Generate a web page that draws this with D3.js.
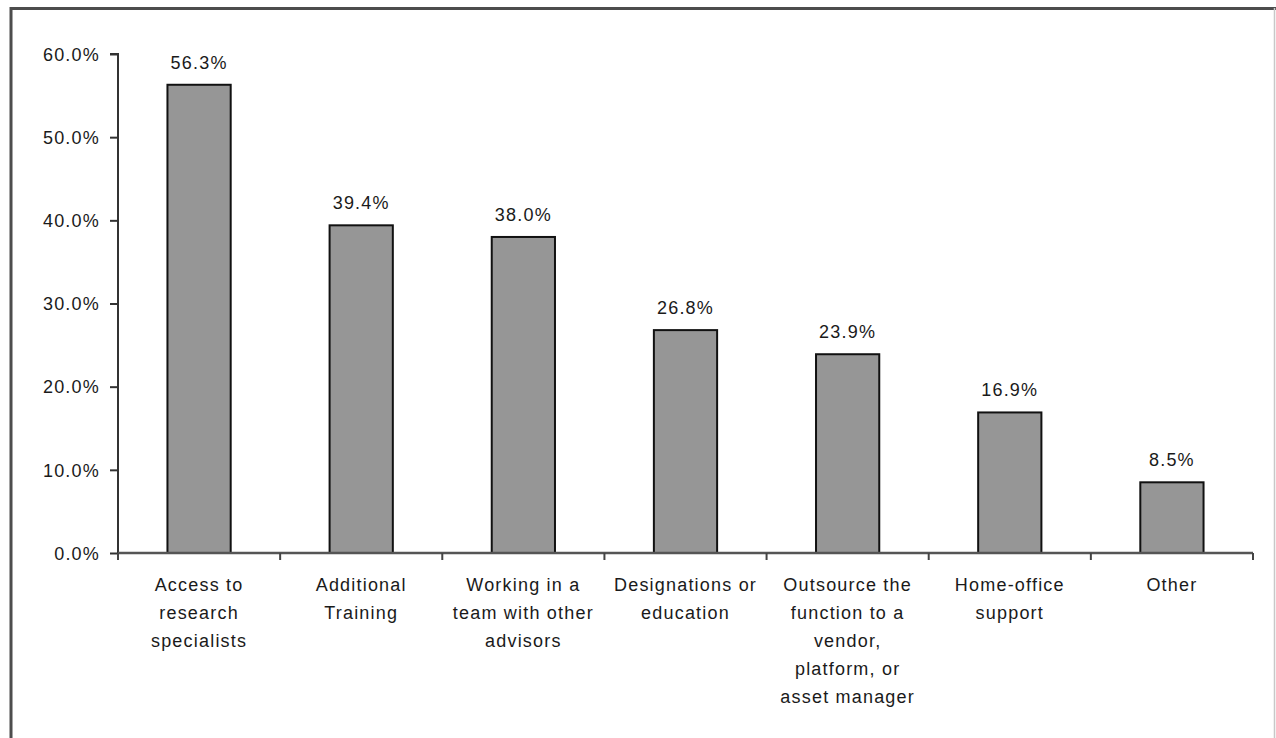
<!DOCTYPE html>
<html><head><meta charset="utf-8">
<script src="https://cdn.jsdelivr.net/npm/d3@7/dist/d3.min.js"></script>
<style>
html,body{margin:0;padding:0;background:#fff;}
svg{display:block;}
text{font-family:"Liberation Sans",Arial,sans-serif;font-size:18px;fill:#1a1a1a;letter-spacing:1.2px;}
</style></head>
<body>
<script>
const categories = [
  ["Access to","research","specialists"],
  ["Additional","Training"],
  ["Working in a","team with other","advisors"],
  ["Designations or","education"],
  ["Outsource the","function to a","vendor,","platform, or","asset manager"],
  ["Home-office","support"],
  ["Other"]
];
const values = [56.3, 39.4, 38.0, 26.8, 23.9, 16.9, 8.5];
const yTicks = [0, 10, 20, 30, 40, 50, 60];

const W = 1276, H = 738;
const svg = d3.select("body").append("svg").attr("width", W).attr("height", H);

// outer frame
svg.append("path").attr("d", `M11,${H} L11,8.5 L${W},8.5`)
  .attr("fill","none").attr("stroke","#4d4d4d").attr("stroke-width",3);
svg.append("line").attr("x1",W-1.5).attr("x2",W-1.5).attr("y1",8).attr("y2",H)
  .attr("stroke","#c8c8c8").attr("stroke-width",1.5);

const x0 = 118, x1 = 1253, yTop = 54, yBot = 553;
const idx = d3.range(values.length);
const x = d3.scaleBand().domain(idx).range([x0, x1]).paddingInner(0.61).paddingOuter(0.305);
const xb = d3.scaleBand().domain(idx).range([x0, x1]);
const y = d3.scaleLinear().domain([0, 60]).range([yBot, yTop]);

// y axis
const yAxis = d3.axisLeft(y).tickValues(yTicks).tickSize(8).tickPadding(10)
  .tickFormat(d => d3.format(".1f")(d) + "%");
const gy = svg.append("g").attr("transform", `translate(${x0},0)`).call(yAxis);
gy.select(".domain").attr("stroke","#333").attr("stroke-width",2).attr("d", `M-8,${yTop}H0V${yBot+7}`);
gy.selectAll(".tick line").attr("stroke","#333").attr("stroke-width",2);
gy.selectAll(".tick text").attr("fill","#1a1a1a").style("font-size","18px").attr("dy","0.35em");

// bars
svg.append("g").selectAll("rect").data(values).join("rect")
  .attr("x", (d,i) => x(i)).attr("width", x.bandwidth())
  .attr("y", d => y(d)).attr("height", d => yBot - y(d))
  .attr("fill", "#969696").attr("stroke", "#111").attr("stroke-width", 2);

// x axis line and boundary ticks
svg.append("line").attr("x1", x0).attr("x2", x1).attr("y1", yBot).attr("y2", yBot)
  .attr("stroke","#555").attr("stroke-width",2.5);
const bounds = idx.map(i => xb(i)).concat([x1]);
svg.append("g").selectAll("line").data(bounds).join("line")
  .attr("x1", d => d).attr("x2", d => d).attr("y1", yBot).attr("y2", yBot + 7)
  .attr("stroke","#444").attr("stroke-width",2);

// value labels
svg.append("g").selectAll("text").data(values).join("text")
  .attr("x", (d,i) => x(i) + x.bandwidth()/2).attr("y", d => y(d) - 16)
  .attr("text-anchor","middle")
  .text(d => d3.format(".1f")(d) + "%");

// category labels
const cg = svg.append("g").selectAll("text").data(categories).join("text")
  .attr("text-anchor","middle")
  .attr("transform", (d,i) => `translate(${xb(i) + xb.bandwidth()/2},591)`);
cg.selectAll("tspan").data(d => d).join("tspan")
  .attr("x", 0).attr("y", (d,j) => j * 28)
  .text(d => d);
</script>
</body></html>
